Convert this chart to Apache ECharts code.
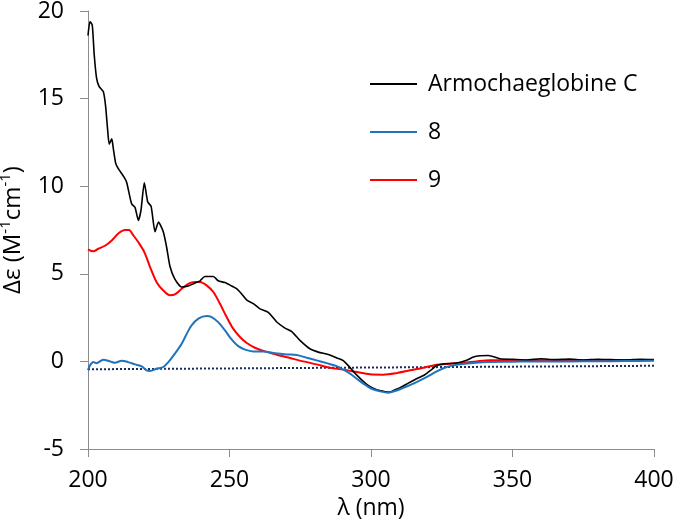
<!DOCTYPE html>
<html>
<head>
<meta charset="utf-8">
<script src="https://cdn.jsdelivr.net/npm/echarts@6/dist/echarts.min.js"></script>
<style>html,body{margin:0;padding:0;background:#fff}#c{width:675px;height:531px}</style>
</head>
<body>
<div id="c"></div>
<script>
// Armochaeglobine C
const armoX = [200, 200.7, 201.5, 202.2, 203, 203.9, 205.4, 206.2, 207, 207.5, 208.4, 208.9, 209.8, 210.7, 212.8, 213.7, 215.4, 216.6, 217.8, 218.7, 219.9, 221.1, 222.3, 223.7, 224.9, 226.6, 227.8, 229, 230.7, 233.1, 235.4, 237.5, 239.6, 241.3, 244.3, 246, 248.4, 250.8, 252.5, 254.3, 256.1, 258.4, 260.8, 263.7, 266.7, 269.6, 272, 274.9, 278.4, 281.4, 284.9, 287.9, 290.2, 292.6, 294.3, 296.7, 299, 302, 304.3, 306.5, 308.5, 310.8, 313.2, 316.1, 319, 321.4, 323.2, 326.1, 330.3, 333.8, 336.2, 338.5, 341.5, 345.6, 350, 355, 360, 365, 370, 375, 380, 385, 390, 395, 400];
const armoY = [18.6, 19.4, 19.2, 17.5, 16.2, 15.7, 15.4, 14.6, 13.1, 12.4, 12.7, 12.2, 11.3, 11.0, 10.5, 10.2, 9.0, 8.8, 8.05, 8.6, 10.2, 9.1, 8.85, 7.4, 7.95, 7.4, 6.5, 5.4, 4.7, 4.25, 4.3, 4.45, 4.6, 4.85, 4.85, 4.6, 4.5, 4.3, 4.15, 3.85, 3.5, 3.3, 3.0, 2.8, 2.25, 1.9, 1.7, 1.2, 0.72, 0.53, 0.4, 0.2, 0.05, -0.35, -0.67, -1.05, -1.37, -1.62, -1.7, -1.75, -1.62, -1.46, -1.24, -0.99, -0.76, -0.47, -0.23, -0.13, -0.1, 0.06, 0.25, 0.32, 0.34, 0.15, 0.12, 0.08, 0.15, 0.1, 0.13, 0.08, 0.12, 0.1, 0.08, 0.12, 0.1];

// compound 8
const c8X = [200, 200.7, 201.9, 203, 205.4, 207.8, 209.5, 211.9, 214.2, 216.6, 219, 220.7, 221.9, 224.3, 226.6, 228.4, 230.7, 233.1, 234.9, 236.6, 239, 241.9, 243.7, 246, 248.4, 250.8, 253.1, 255.5, 258.4, 262, 266.1, 270.2, 273.7, 277.3, 280.8, 284.3, 287.9, 290.2, 292.6, 295, 297.3, 300.2, 303.2, 306.1, 309, 312.6, 316.1, 319.6, 323.2, 326.7, 330.3, 335, 340.9, 350, 360, 370, 380, 390, 400];
const c8Y = [-0.5, -0.23, -0.04, -0.1, 0.1, 0, -0.08, 0.04, -0.04, -0.17, -0.29, -0.51, -0.55, -0.42, -0.32, -0.04, 0.44, 1.01, 1.58, 2.05, 2.44, 2.59, 2.53, 2.24, 1.77, 1.24, 0.87, 0.67, 0.57, 0.57, 0.47, 0.4, 0.36, 0.21, 0.06, -0.1, -0.27, -0.47, -0.7, -0.99, -1.27, -1.56, -1.71, -1.79, -1.66, -1.43, -1.18, -0.9, -0.57, -0.32, -0.19, -0.1, -0.04, -0.02, 0, 0, 0.01, 0.02, 0.03];

// compound 9
const c9X = [200, 201.9, 203.6, 206, 208.4, 210.7, 213.1, 214.5, 216, 217.8, 219.9, 221.9, 224.3, 226.6, 229, 230.7, 233.1, 235.4, 237.8, 239.6, 241.9, 244.3, 246.6, 249, 251.3, 253.7, 256.1, 259, 262.5, 266.7, 271.4, 276.1, 280.8, 285.5, 290.2, 295, 299.6, 304.3, 309, 313.8, 318.5, 323.2, 327.9, 332.6, 337.3, 342, 350, 360, 370, 380, 390, 400];
const c9Y = [6.4, 6.28, 6.43, 6.6, 6.9, 7.3, 7.5, 7.5, 7.2, 6.8, 6.24, 5.4, 4.5, 4.05, 3.77, 3.82, 4.15, 4.43, 4.53, 4.53, 4.34, 3.96, 3.3, 2.53, 1.87, 1.39, 1.05, 0.78, 0.57, 0.38, 0.19, 0.0, -0.17, -0.36, -0.47, -0.61, -0.74, -0.76, -0.67, -0.51, -0.36, -0.19, -0.13, -0.08, 0, 0.06, 0.06, 0.06, 0.07, 0.07, 0.08, 0.08];

// baseline (dotted)
const baseX = [200, 400];
const baseY = [-0.45, -0.25];

const xTicks = {min: 200, max: 400, interval: 50};
const yTicks = {min: -5, max: 20, interval: 5};

const zip = (xs, ys) => xs.map((x, i) => [x, ys[i]]);
const FONT = 'Open Sans';
const axisGrey = '#8c8c8c';

const chart = echarts.init(document.getElementById('c'), null, {renderer: 'canvas'});
chart.setOption({
  backgroundColor: '#ffffff',
  animation: false,
  grid: {left: 88, right: 21, top: 11, bottom: 82, containLabel: false, outerBoundsMode: 'none'},
  legend: {
    orient: 'vertical',
    left: 365,
    top: 67,
    icon: 'rect',
    itemWidth: 47,
    itemHeight: 2,
    itemGap: 24,
    data: ['Armochaeglobine C', '8', '9'],
    textStyle: {fontFamily: FONT, fontSize: 23, color: '#000', lineHeight: 24, padding: [0, 0, 0, 6]}
  },
  xAxis: {
    type: 'value',
    min: xTicks.min, max: xTicks.max, interval: xTicks.interval,
    name: 'λ (nm)',
    nameLocation: 'middle',
    nameGap: 48,
    nameMoveOverlap: false,
    nameTextStyle: {fontFamily: FONT, fontSize: 23, color: '#000'},
    axisLine: {show: true, onZero: false, lineStyle: {color: axisGrey, width: 1}},
    axisTick: {show: true, length: 8, lineStyle: {color: axisGrey}},
    axisLabel: {fontFamily: FONT, fontSize: 23, color: '#000', margin: 20},
    splitLine: {show: false}
  },
  yAxis: {
    type: 'value',
    min: yTicks.min, max: yTicks.max, interval: yTicks.interval,
    name: '{a|Δε (M}{s|-1}{a|cm}{s|-1}{a|)}',
    nameLocation: 'middle',
    nameGap: 60,
    nameMoveOverlap: false,
    nameTextStyle: {
      fontFamily: FONT, color: '#000',
      rich: {
        a: {fontFamily: FONT, fontSize: 24, color: '#000', lineHeight: 30},
        s: {fontFamily: FONT, fontSize: 15, color: '#000', verticalAlign: 'top', lineHeight: 30, padding: [0, 0, 12, 0]}
      }
    },
    axisLine: {show: true, onZero: false, lineStyle: {color: axisGrey, width: 1}},
    axisTick: {show: true, length: 8, lineStyle: {color: axisGrey}},
    axisLabel: {fontFamily: FONT, fontSize: 23, color: '#000', margin: 24},
    splitLine: {show: false}
  },
  series: [
    {
      name: 'baseline', type: 'line', data: zip(baseX, baseY), symbol: 'none',
      lineStyle: {color: '#1c2a5e', width: 2, type: [2, 2]}, silent: true, z: 1
    },
    {
      name: '9', type: 'line', data: zip(c9X, c9Y), symbol: 'none', smooth: 0.3,
      lineStyle: {color: '#ff0000', width: 2}, itemStyle: {color: '#ff0000'}, z: 2
    },
    {
      name: 'Armochaeglobine C', type: 'line', data: zip(armoX, armoY), symbol: 'none', smooth: 0.2,
      lineStyle: {color: '#000000', width: 1.6}, itemStyle: {color: '#000000'}, z: 3
    },
    {
      name: '8', type: 'line', data: zip(c8X, c8Y), symbol: 'none', smooth: 0.3,
      lineStyle: {color: '#1f74bd', width: 2}, itemStyle: {color: '#1f74bd'}, z: 4
    }
  ]
});
</script>
</body>
</html>
